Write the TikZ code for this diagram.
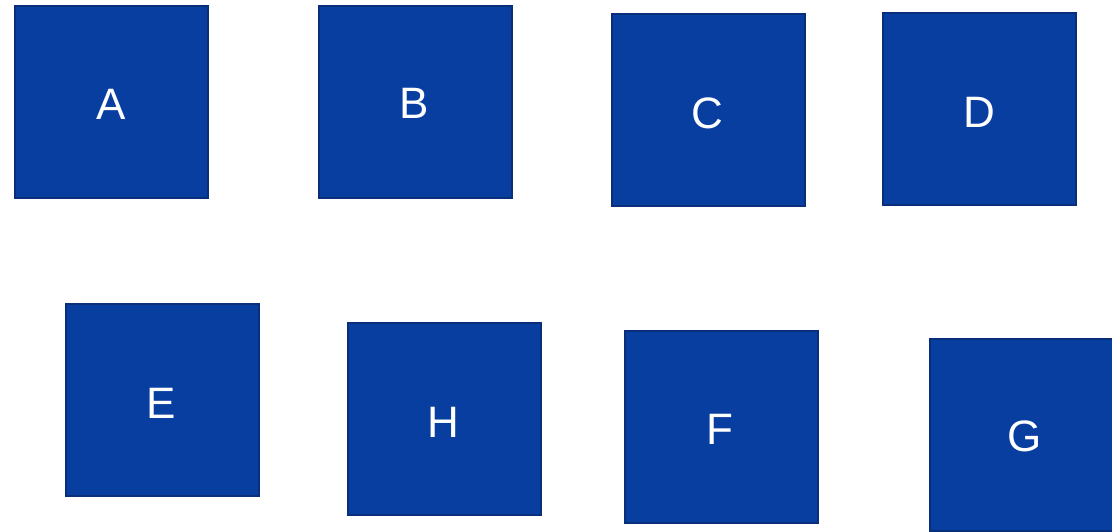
\documentclass[tikz,border=0pt]{standalone}
\usepackage{fontspec}
\setmainfont{Liberation Sans}
\definecolor{boxfill}{HTML}{073EA0}
\definecolor{boxline}{HTML}{0A2F7A}
\begin{document}
\begin{tikzpicture}[x=1pt,y=-1pt,
  sq/.style={draw=boxline,fill=boxfill,line width=1.5pt,minimum width=193pt,minimum height=192pt,inner sep=0pt,anchor=north west},
  lbl/.style={text=white,font=\fontsize{44}{48}\selectfont,inner sep=0pt}]
\useasboundingbox (0,0) rectangle (1112,531);
\begin{scope}
\clip (0,0) rectangle (1112,531);
\node[sq] (bA) at (14,5) {};
\node[sq] (bB) at (318,5) {};
\node[sq] (bC) at (611,13) {};
\node[sq] (bD) at (882,12) {};
\node[sq] (bE) at (65,303) {};
\node[sq] (bH) at (347,322) {};
\node[sq] (bF) at (624,330) {};
\node[sq] (bG) at (929,338) {};
\end{scope}
\node[lbl] (A) at (111,104) {A};
\node[lbl] (B) at (414,103) {B};
\node[lbl] (C) at (707,113) {C};
\node[lbl] (D) at (979,112) {D};
\node[lbl] (E) at (161,403) {E};
\node[lbl] (H) at (443,422) {H};
\node[lbl] (F) at (720,429) {F};
\node[lbl] (G) at (1025,436) {G};
\end{tikzpicture}
\end{document}
